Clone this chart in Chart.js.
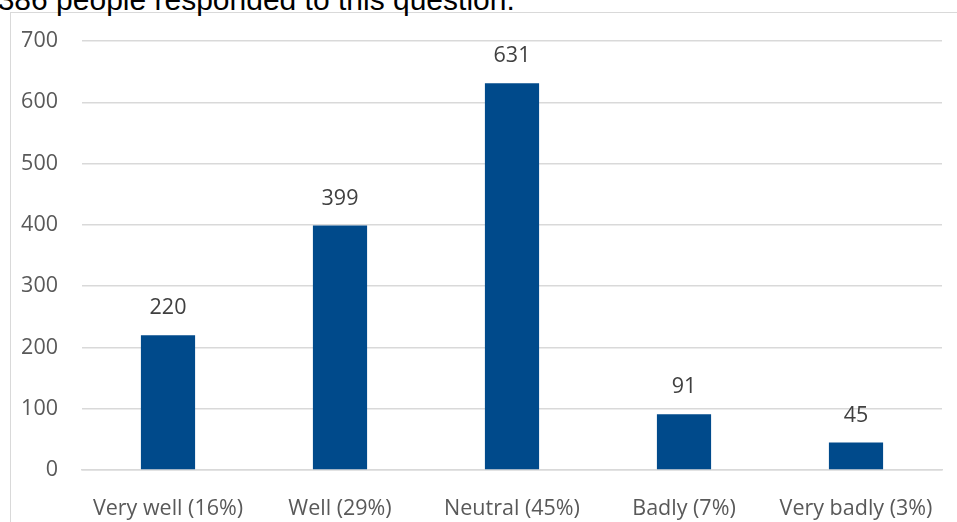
<!DOCTYPE html>
<html>
<head>
<meta charset="utf-8">
<script src="https://cdn.jsdelivr.net/npm/chart.js@4"></script>
<style>
  html, body { margin: 0; padding: 0; background: #fff; overflow: hidden; }
  #frame { position: absolute; left: 10px; top: 12px; width: 970px; height: 540px; border: 1px solid #d9d9d9; }
  #caption { position: absolute; left: -19px; top: -17px; font: 30px "Liberation Sans", Arial, sans-serif; color: #000; white-space: nowrap; }
  #wrap { position: absolute; left: 0; top: 0; width: 957px; height: 522px; }
</style>
</head>
<body>
<div id="frame"></div>
<div id="caption">1386 people responded to this question.</div>
<div id="wrap"><canvas id="myChart"></canvas></div>
<script>
const categories = ["Very well (16%)", "Well (29%)", "Neutral (45%)", "Badly (7%)", "Very badly (3%)"];
const responses = [220, 399, 631, 91, 45];
const yTicks = [0, 100, 200, 300, 400, 500, 600, 700];

const labelFont = { family: "'Open Sans', Carlito, sans-serif", size: 21.5 };

// draws the value above each bar
const valueLabels = {
  id: "valueLabels",
  afterDatasetsDraw(chart) {
    const ctx = chart.ctx;
    const meta = chart.getDatasetMeta(0);
    ctx.save();
    ctx.font = "21.5px 'Open Sans', Carlito, sans-serif";
    ctx.fillStyle = "#404040";
    ctx.textAlign = "center";
    ctx.textBaseline = "middle";
    meta.data.forEach((bar, i) => {
      ctx.fillText(String(responses[i]), bar.x, bar.y - 27);
    });
    ctx.restore();
  },
};

new Chart(document.querySelector("#myChart"), {
  type: "bar",
  data: {
    labels: categories,
    datasets: [
      {
        data: responses,
        backgroundColor: "#004a8b",
        barPercentage: 0.315,
        categoryPercentage: 1,
      },
    ],
  },
  options: {
    responsive: true,
    maintainAspectRatio: false,
    animation: false,
    layout: { padding: { left: 0, top: 41, right: 15, bottom: 0 } },
    plugins: { legend: { display: false }, tooltip: { enabled: false } },
    scales: {
      x: {
        grid: { display: false, drawTicks: false },
        border: { display: true, color: "#d9d9d9", width: 1.5 },
        ticks: { color: "#595959", font: labelFont, padding: 26, maxRotation: 0 },
        afterFit(scale) {
          scale.height = 52;
          scale.paddingLeft = 0;
          scale.paddingRight = 0;
        },
      },
      y: {
        min: 0,
        max: 700,
        afterBuildTicks(scale) { scale.ticks = yTicks.map(v => ({ value: v })); },
        grid: { color: "#d9d9d9", lineWidth: 1.5, drawTicks: false },
        border: { display: false },
        ticks: { color: "#595959", font: labelFont, padding: 24 },
        afterFit(scale) { scale.width = 82; },
      },
    },
  },
  plugins: [valueLabels],
});
</script>
</body>
</html>
